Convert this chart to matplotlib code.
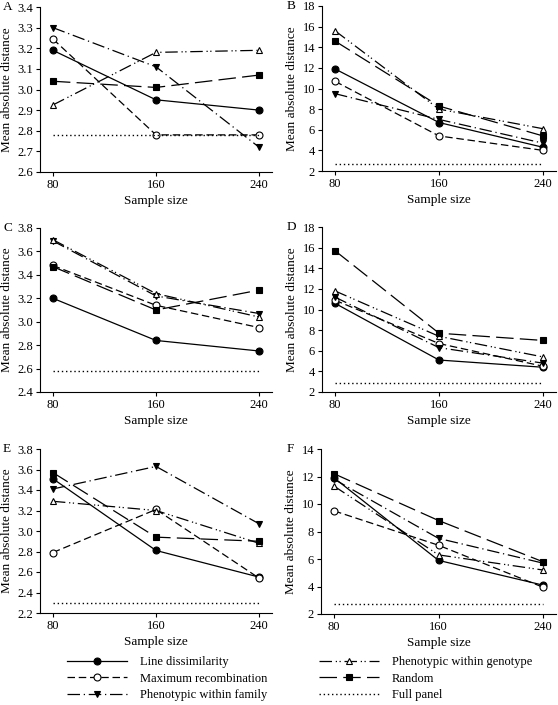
import numpy as np
import matplotlib
matplotlib.use("Agg")
import matplotlib.pyplot as plt
from matplotlib.ticker import FormatStrFormatter

plt.rcParams['font.family'] = ['Liberation Serif', 'DejaVu Serif']
plt.rcParams['font.size'] = 9

# ==== DADOS ====
tamanhos = [80, 160, 240]
paineis = ['A', 'B', 'C', 'D', 'E', 'F']

# cada lista: um valor por painel (A..F), tres tamanhos de amostra
line_dissimilarity = [
    [3.19, 2.95, 2.90],
    [11.9, 6.7, 4.3],
    [3.20, 2.84, 2.75],
    [10.6, 5.1, 4.4],
    [3.51, 2.81, 2.55],
    [11.9, 5.9, 4.1],
]
max_recombination = [
    [3.245, 2.78, 2.78],
    [10.7, 5.4, 4.0],
    [3.48, 3.14, 2.95],
    [10.9, 6.7, 4.5],
    [2.79, 3.21, 2.54],
    [9.5, 7.0, 3.95],
]
pheno_family = [
    [3.30, 3.11, 2.72],
    [9.5, 7.0, 4.7],
    [3.69, 3.22, 3.07],
    [11.2, 6.3, 4.8],
    [3.41, 3.63, 3.07],
    [11.8, 7.5, 5.7],
]
pheno_genotype = [
    [2.925, 3.18, 3.19],
    [15.6, 8.0, 6.1],
    [3.70, 3.24, 3.04],
    [11.8, 7.4, 5.4],
    [3.29, 3.20, 2.88],
    [11.3, 6.3, 5.2],
]
random_sel = [
    [3.04, 3.01, 3.07],
    [14.6, 8.3, 5.4],
    [3.47, 3.10, 3.27],
    [15.7, 7.7, 7.0],
    [3.57, 2.94, 2.90],
    [12.2, 8.8, 5.8],
]
full_panel = [2.78, 2.7, 2.58, 2.9, 2.3, 2.7]

# limites do eixo y (min, max, passo)
y_min = [2.6, 2, 2.4, 2, 2.2, 2]
y_max = [3.4, 18, 3.8, 18, 3.8, 14]
y_step = [0.1, 2, 0.2, 2, 0.2, 2]

# ==== ESTILOS ====
W, H = 558, 705
estilos = [
    ('Line dissimilarity', line_dissimilarity, dict(ls='-', marker='o', mfc='black')),
    ('Maximum recombination', max_recombination, dict(dashes=(6, 3), marker='o', mfc='white')),
    ('Phenotypic within family', pheno_family, dict(dashes=(10, 3, 1, 3), marker='v', mfc='black')),
    ('Phenotypic within genotype', pheno_genotype, dict(dashes=(10, 3, 1, 2, 1, 3), marker='^', mfc='white')),
    ('Random', random_sel, dict(dashes=(14, 5), marker='s', mfc='black', ms=4.5)),
]

# posicoes dos eixos em pixels: (esquerda, direita, topo, base)
caixas = [
    (40, 272, 7, 172), (322, 556, 6, 171),
    (40, 272, 228, 392), (322, 556, 227, 392),
    (40, 272, 449, 613), (321, 556, 449, 614),
]
letras_xy = [(3, 7), (287, 6), (3, 228), (287, 227), (3, 449), (287, 449)]

fig = plt.figure(figsize=(W / 100, H / 100), dpi=100)

handles = []
for i, p in enumerate(paineis):
    l, r, t, b = caixas[i]
    ax = fig.add_axes([l / W, 1 - b / H, (r - l) / W, (b - t) / H])
    for nome, dados, st in estilos:
        kw = dict(color='black', lw=0.9, mec='black', mew=0.8, ms=5)
        kw.update(st)
        h, = ax.plot(tamanhos, dados[i], label=nome, **kw)
        if i == 0:
            handles.append(h)
    h, = ax.plot([tamanhos[0], tamanhos[-1]], [full_panel[i], full_panel[i]],
                 color='black', lw=1.0, dashes=(1, 2), label='Full panel')
    if i == 0:
        handles.append(h)

    ax.set_xlim(70, 250)
    ax.set_ylim(y_min[i], y_max[i])
    ax.set_xticks(tamanhos)
    ax.set_yticks(np.arange(y_min[i], y_max[i] + y_step[i] / 2, y_step[i]))
    if y_step[i] < 1:
        ax.yaxis.set_major_formatter(FormatStrFormatter('%.1f'))
    for s in ['top', 'right']:
        ax.spines[s].set_visible(False)
    for s in ['left', 'bottom']:
        ax.spines[s].set_linewidth(0.8)
    ax.tick_params(direction='out', length=3, width=0.8, pad=2, labelsize=9)
    ax.set_ylabel('Mean absolute distance', fontsize=9.5, labelpad=3)
    ax.set_xlabel('Sample size', fontsize=9.5, labelpad=3)
    fig.text(letras_xy[i][0] / W, 1 - letras_xy[i][1] / H, p,
             fontsize=9.5, ha='left', va='center')

fig.legend(handles=handles, loc='upper left', ncol=2, frameon=False,
           bbox_to_anchor=(67 / W, 1 - 656 / H), borderaxespad=0, borderpad=0,
           handlelength=4.8, handletextpad=1.0, columnspacing=4.2,
           labelspacing=0.36, fontsize=9)

fig.savefig('out.png', dpi=100)
